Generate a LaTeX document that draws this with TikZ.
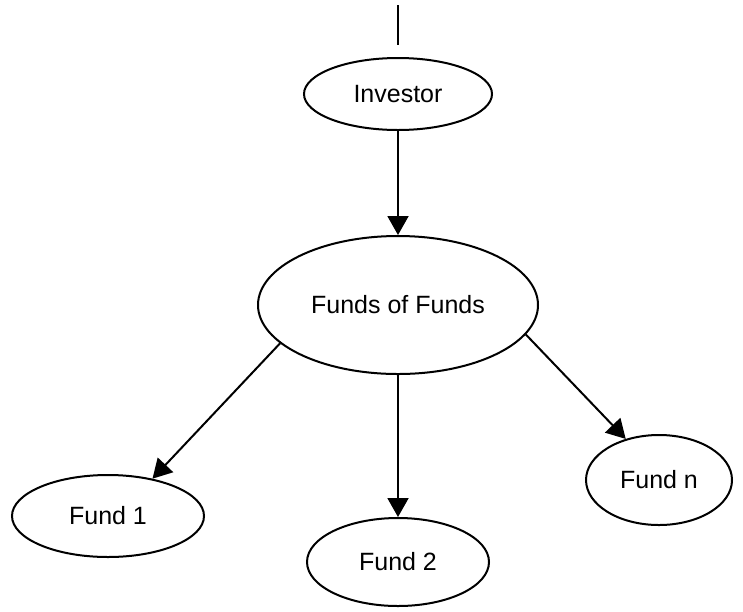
\documentclass[tikz,border=0pt]{standalone}
\usepackage{fontspec}
\setmainfont{Liberation Sans}
\usetikzlibrary{shapes.geometric,arrows.meta}
\begin{document}
\begin{tikzpicture}[x=1pt,y=-1pt,
  oval/.style={ellipse,draw,line width=2pt,inner sep=0pt,font=\fontsize{25}{28}\selectfont},
  conn/.style={line width=2pt},
  arr/.style={conn,-{Triangle[length=19pt,width=21pt]}}]
\useasboundingbox (0,0) rectangle (743,611);
\node[oval,minimum width=188pt,minimum height=72pt] (inv) at (398,94) {Investor};
\node[oval,minimum width=280pt,minimum height=138pt] (fof) at (398,305) {Funds of Funds};
\node[oval,minimum width=192pt,minimum height=82pt] (f1) at (108,516) {Fund 1};
\node[oval,minimum width=182pt,minimum height=88pt] (f2) at (398,562) {Fund 2};
\node[oval,minimum width=146pt,minimum height=90pt] (fn) at (659,480) {Fund n};
\coordinate (topA) at (398,5);
\coordinate (topB) at (398,45);
\draw[conn] (topA) -- (topB);
\draw[arr] (inv.south) -- (fof.north);
\draw[arr] (fof.198) -- (f1.40);
\draw[arr] (fof.south) -- (f2.north);
\draw[arr] (fof.347) -- (fn.129);
\end{tikzpicture}
\end{document}
